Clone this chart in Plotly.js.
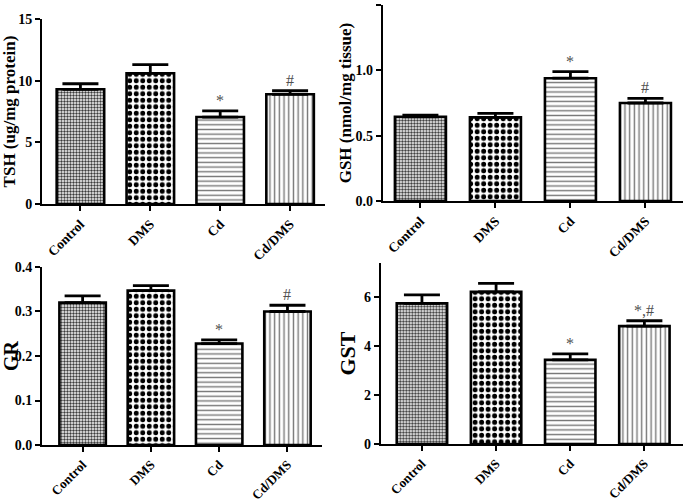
<!DOCTYPE html>
<html>
<head>
<meta charset="utf-8">
<script src="https://cdn.plot.ly/plotly-3.0.1.min.js"></script>
<style>html,body{margin:0;padding:0;background:#fff;}#chart{width:685px;height:503px;}</style>
</head>
<body>
<div id="chart"></div>
<script>
// ---- data ----
var categories = ['Control', 'DMS', 'Cd', 'Cd/DMS'];

var tshMean = [9.3, 10.6, 7.05, 8.9];
var tshSem  = [0.45, 0.7, 0.5, 0.3];
var tshSig  = ['', '', '*', '#'];

var gshMean = [0.645, 0.64, 0.94, 0.75];
var gshSem  = [0.013, 0.03, 0.05, 0.035];
var gshSig  = ['', '', '*', '#'];

var grMean = [0.32, 0.347, 0.228, 0.30];
var grSem  = [0.015, 0.011, 0.008, 0.014];
var grSig  = ['', '', '*', '#'];

var gstMean = [5.75, 6.22, 3.44, 4.82];
var gstSem  = [0.35, 0.35, 0.25, 0.22];
var gstSig  = ['', '', '*', '*,#'];

var yTitles = ['TSH (ug/mg protein)', 'GSH (nmol/mg tissue)', 'GR', 'GST'];
var yTicks = [
  {vals: [0, 5, 10, 15], text: ['0', '5', '10', '15']},
  {vals: [0, 0.5, 1.0, 1.5], text: ['0.0', '0.5', '1.0', '1.5']},
  {vals: [0, 0.1, 0.2, 0.3, 0.4], text: ['0.0', '0.1', '0.2', '0.3', '0.4']},
  {vals: [0, 2, 4, 6], text: ['0', '2', '4', '6']}
];

// ---- styling ----
var FONT = 'Liberation Serif, Times New Roman, serif';
var patShapes = ['.', '.', '-', '|'];
var patSizes = [3, 6.5, 4.7, 4.7];
var patSolid = [0.5, 0.45, 0.3, 0.3];
var patFg = ['#3a3a3a', '#000000', '#777777', '#777777'];

var panels = [
  {mean: tshMean, sem: tshSem, sig: tshSig, yr: [0, 15], xr: [-0.55, 3.5],
   xd: [0.0613, 0.4745], yd: [0.5944, 0.9622], tf: 17, so: 4, xf: 13.5},
  {mean: gshMean, sem: gshSem, sig: gshSig, yr: [0, 1.5], xr: [-0.5, 3.5],
   xd: [0.559, 0.997], yd: [0.6004, 0.990], tf: 17, so: 0, xf: 13.5},
  {mean: grMean, sem: grSem, sig: grSig, yr: [0, 0.4], xr: [-0.595, 3.505],
   xd: [0.0613, 0.470], yd: [0.1153, 0.4692], tf: 20, so: 4, xf: 13},
  {mean: gstMean, sem: gstSem, sig: gstSig, yr: [0, 7.4], xr: [-0.554, 3.52],
   xd: [0.556, 0.997], yd: [0.1173, 0.477], tf: 22, so: 2, xf: 13}
];

var traces = [];
var annotations = [];
var layout = {
  width: 685, height: 503,
  margin: {l: 0, r: 0, t: 0, b: 0},
  paper_bgcolor: '#ffffff', plot_bgcolor: '#ffffff',
  showlegend: false,
  bargap: 0.32,
  font: {family: FONT, color: '#000'}
};

panels.forEach(function (p, i) {
  var n = i === 0 ? '' : String(i + 1);
  var xa = 'x' + n, ya = 'y' + n;
  traces.push({
    type: 'bar',
    x: categories,
    y: p.mean,
    xaxis: xa, yaxis: ya,
    marker: {
      color: '#ffffff',
      line: {color: '#000000', width: 2.6},
      pattern: {shape: patShapes, size: patSizes, solidity: patSolid, fgcolor: patFg, bgcolor: '#ffffff'}
    },
    error_y: {
      type: 'data', symmetric: false,
      array: p.sem, arrayminus: p.mean.map(function () { return 0; }),
      color: '#000000', thickness: 2.8, width: 18
    },
    hoverinfo: 'skip'
  });
  p.sig.forEach(function (s, j) {
    if (!s) return;
    annotations.push({
      xref: xa, yref: ya,
      x: categories[j], y: p.mean[j] + p.sem[j],
      text: s, showarrow: false,
      yanchor: 'bottom', yshift: 0,
      font: {family: FONT, size: 16, color: '#505050'}
    });
  });
  layout['xaxis' + n] = {
    domain: p.xd, anchor: ya, range: p.xr, type: 'category',
    showline: true, linecolor: '#000', linewidth: 2,
    ticks: 'outside', ticklen: 5, tickwidth: 2, tickcolor: '#000',
    tickangle: -45,
    showgrid: false, zeroline: false, fixedrange: true,
    tickfont: {family: FONT, size: p.xf, color: '#000', weight: 'bold'}
  };
  layout['yaxis' + n] = {
    domain: p.yd, anchor: xa, range: p.yr,
    tickvals: yTicks[i].vals, ticktext: yTicks[i].text,
    showline: true, linecolor: '#000', linewidth: 2,
    ticks: 'outside', ticklen: 5, tickwidth: 2, tickcolor: '#000',
    showgrid: false, zeroline: false, fixedrange: true,
    tickfont: {family: FONT, size: 14, color: '#000', weight: 'bold'},
    title: {text: '<b>' + yTitles[i] + '</b>', font: {family: FONT, size: p.tf, color: '#000'}, standoff: p.so}
  };
});
layout.annotations = annotations;

Plotly.newPlot('chart', traces, layout, {displayModeBar: false, staticPlot: true});
</script>
</body>
</html>
